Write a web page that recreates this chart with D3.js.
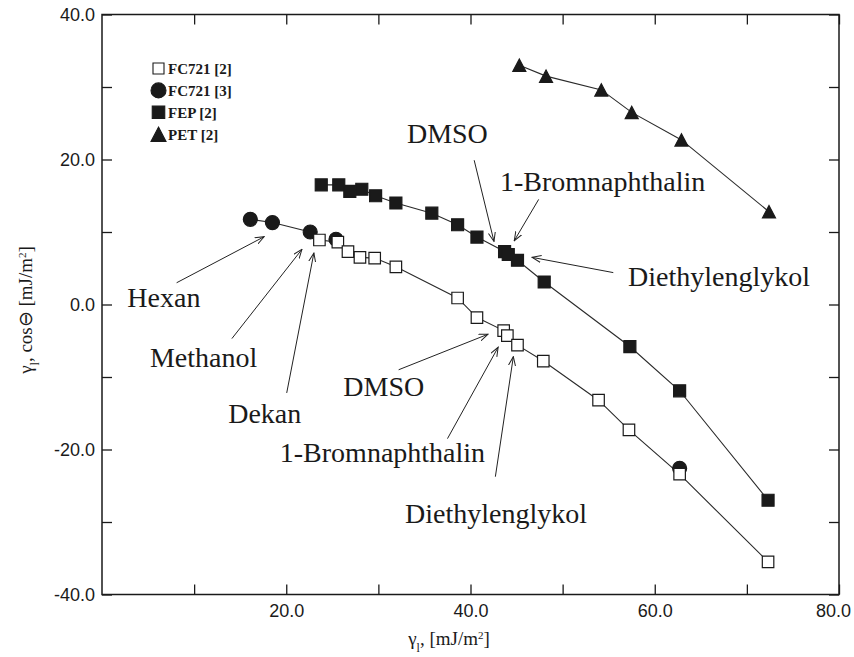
<!DOCTYPE html>
<html>
<head>
<meta charset="utf-8">
<script src="https://cdn.jsdelivr.net/npm/d3@7"></script>
<style>
  html, body { margin: 0; padding: 0; background: #fff; }
  svg { display: block; }
</style>
</head>
<body>
<svg id="chart" width="854" height="657"></svg>
<script>
// ---------------- DATA ----------------
const fc721_2_x = [23.6, 25.6, 26.7, 28.0, 29.6, 31.9, 38.6, 40.7, 43.6, 44.0, 45.1, 47.9, 53.9, 57.2, 62.7, 72.3];
const fc721_2_y = [8.9, 8.6, 7.3, 6.5, 6.4, 5.2, 0.9, -1.8, -3.6, -4.3, -5.6, -7.8, -13.2, -17.3, -23.4, -35.5];

const fc721_3_x = [16.1, 18.5, 22.6, 25.4, 62.7];
const fc721_3_y = [11.75, 11.3, 10.0, 9.0, -22.6];

const fep_x = [23.8, 25.7, 26.9, 28.2, 29.7, 31.9, 35.8, 38.6, 40.7, 43.7, 44.1, 45.1, 48.0, 57.3, 62.7, 72.3];
const fep_y = [16.5, 16.5, 15.6, 15.9, 15.0, 14.0, 12.6, 11.0, 9.3, 7.3, 6.9, 6.1, 3.1, -5.8, -11.9, -27.0];

const pet_x = [45.3, 48.2, 54.2, 57.5, 62.9, 72.4];
const pet_y = [33.0, 31.5, 29.6, 26.5, 22.7, 12.8];

const seriesNames = ["FC721 [2]", "FC721 [3]", "FEP [2]", "PET [2]"];

const xTickValues = [10, 20, 30, 40, 50, 60, 70, 80];
const xTickLabels = [20, 40, 60, 80];
const yTickValues = [-40, -30, -20, -10, 0, 10, 20, 30, 40];
const yTickLabels = [-40, -20, 0, 20, 40];

// annotation labels (text position and arrow in data units)
const annoText = ["DMSO", "1-Bromnaphthalin", "Diethylenglykol", "Hexan", "Methanol", "Dekan", "DMSO", "1-Bromnaphthalin", "Diethylenglykol"];
const annoTextX = [33.1, 43.2, 57.1, 2.75, 5.2, 13.7, 26.2, 19.3, 32.9];
const annoTextY = [22.3, 15.6, 2.6, -0.3, -8.6, -16.3, -12.6, -21.7, -30.2];
const annoFromX = [40.4, 47.4, 55.5, 8.1, 14.1, 20.05, 32.2, 37.5, 42.7];
const annoFromY = [19.9, 14.5, 4.4, 3.0, -4.7, -12.2, -9.0, -18.5, -23.75];
const annoToX = [42.55, 44.75, 46.7, 17.6, 21.7, 23.0, 41.9, 43.0, 44.65];
const annoToY = [8.7, 8.8, 6.5, 9.35, 7.6, 7.1, -4.1, -5.9, -7.2];

// ---------------- CHART ----------------
const svg = d3.select("#chart");
const x = d3.scaleLinear().domain([0, 80]).range([102, 839]);
const y = d3.scaleLinear().domain([-40, 40]).range([594.5, 14.5]);

const ink = "#1a1a1a";

// axes (ticks inward on all four sides)
const fmt = d => d.toFixed(1);
const axB = d3.axisBottom(x).tickValues(xTickValues).tickSizeInner(-10).tickSizeOuter(0).tickPadding(10)
  .tickFormat(d => xTickLabels.includes(d) ? fmt(d) : "");
const axT = d3.axisTop(x).tickValues(xTickValues).tickSizeInner(-10).tickSizeOuter(0).tickFormat("");
const axL = d3.axisLeft(y).tickValues(yTickValues).tickSizeInner(-10).tickSizeOuter(0).tickPadding(7)
  .tickFormat(d => yTickLabels.includes(d) ? fmt(d) : "");
const axR = d3.axisRight(y).tickValues(yTickValues).tickSizeInner(-10).tickSizeOuter(0).tickFormat("");

function styleAxis(g) {
  g.select(".domain").remove();
  g.selectAll(".tick line").attr("stroke", ink).attr("stroke-width", 1.3);
  g.selectAll(".tick text").attr("fill", ink)
    .style("font-family", "'Liberation Sans', Arial, sans-serif").style("font-size", "18px");
}
const gB = svg.append("g").attr("transform", `translate(0,${y(-40)})`).call(axB).call(styleAxis);
// keep the last label ("80.0") inside the picture
gB.selectAll(".tick text").filter(d => d === 80).attr("dx", -6);
svg.append("g").attr("transform", `translate(0,${y(40)})`).call(axT).call(styleAxis);
svg.append("g").attr("transform", `translate(${x(0)},0)`).call(axL).call(styleAxis);
svg.append("g").attr("transform", `translate(${x(80)},0)`).call(axR).call(styleAxis);

svg.append("rect")
  .attr("x", x(0)).attr("y", y(40))
  .attr("width", x(80) - x(0)).attr("height", y(-40) - y(40))
  .attr("fill", "none").attr("stroke", ink).attr("stroke-width", 1.5);

// axis titles
const xt = svg.append("text").attr("x", 449).attr("y", 645).attr("text-anchor", "middle")
  .style("font-family", "'Liberation Serif', 'Times New Roman', serif").style("font-size", "19px").attr("fill", ink);
xt.append("tspan").text("γ");
xt.append("tspan").attr("baseline-shift", "sub").style("font-size", "12px").text("l");
xt.append("tspan").text(", [mJ/m");
xt.append("tspan").attr("baseline-shift", "super").style("font-size", "11px").text("2");
xt.append("tspan").text("]");

const yt = svg.append("text").attr("transform", "translate(32,310) rotate(-90)").attr("text-anchor", "middle")
  .style("font-family", "'Liberation Serif', 'Times New Roman', serif").style("font-size", "19px").attr("fill", ink);
yt.append("tspan").text("γ");
yt.append("tspan").attr("baseline-shift", "sub").style("font-size", "12px").text("l");
yt.append("tspan").text(", cos⊖  [mJ/m");
yt.append("tspan").attr("baseline-shift", "super").style("font-size", "11px").text("2");
yt.append("tspan").text("]");

// data tables
const zip = (xs, ys) => xs.map((v, i) => ({ x: v, y: ys[i] }));
const fc2 = zip(fc721_2_x, fc721_2_y);
const fc3 = zip(fc721_3_x, fc721_3_y);
const fep = zip(fep_x, fep_y);
const pet = zip(pet_x, pet_y);

// FC721 combined curve: [3] points left of the first [2] point, then [2]
const fcLine = fc3.filter(d => d.x < fc721_2_x[0]).concat(fc2);

const line = d3.line().x(d => x(d.x)).y(d => y(d.y));
[fcLine, fep, pet].forEach(s => {
  svg.append("path").attr("d", line(s)).attr("fill", "none")
    .attr("stroke", "#2a2a2a").attr("stroke-width", 1.1);
});

// symbols
const triType = {
  draw(ctx, size) {
    const w = Math.sqrt(size) , h = w * 0.95;
    ctx.moveTo(0, -h / 2);
    ctx.lineTo(w / 2, h / 2);
    ctx.lineTo(-w / 2, h / 2);
    ctx.closePath();
  }
};
const symSq = (s) => d3.symbol().type(d3.symbolSquare).size(s * s);
const symCi = (dia) => d3.symbol().type(d3.symbolCircle).size(Math.PI * dia * dia / 4);
const symTr = (w) => d3.symbol().type(triType).size(w * w);

function drawPoints(data, sym, fill, stroke) {
  svg.append("g").selectAll("path").data(data).join("path")
    .attr("transform", d => `translate(${x(d.x)},${y(d.y)})`)
    .attr("d", sym())
    .attr("fill", fill).attr("stroke", stroke).attr("stroke-width", 1.2);
}
drawPoints(fc3, () => symCi(14)(), ink, ink);
drawPoints(fc2, () => symSq(11.5)(), "#fff", ink);
drawPoints(fep, () => symSq(12)(), ink, ink);
drawPoints(pet, () => symTr(13)(), ink, ink);

// annotations
svg.append("defs").append("marker")
  .attr("id", "arr").attr("viewBox", "0 0 10 8").attr("refX", 9).attr("refY", 4)
  .attr("markerWidth", 10).attr("markerHeight", 8).attr("markerUnits", "userSpaceOnUse")
  .attr("orient", "auto")
  .append("path").attr("d", "M0,0.5 L9,4 L0,7.5").attr("fill", "none").attr("stroke", "#222").attr("stroke-width", 1);

const annos = annoText.map((t, i) => ({ t, tx: annoTextX[i], ty: annoTextY[i], fx: annoFromX[i], fy: annoFromY[i], ex: annoToX[i], ey: annoToY[i] }));
svg.append("g").selectAll("line").data(annos).join("line")
  .attr("x1", d => x(d.fx)).attr("y1", d => y(d.fy))
  .attr("x2", d => x(d.ex)).attr("y2", d => y(d.ey))
  .attr("stroke", "#222").attr("stroke-width", 1).attr("marker-end", "url(#arr)");
svg.append("g").selectAll("text").data(annos).join("text")
  .attr("x", d => x(d.tx)).attr("y", d => y(d.ty))
  .style("font-family", "'Liberation Serif', 'Times New Roman', serif").style("font-size", "28px")
  .attr("fill", ink).text(d => d.t);

// legend
const legSyms = [
  { sym: symSq(11)(), fill: "#fff" },
  { sym: symCi(15)(), fill: ink },
  { sym: symSq(12.5)(), fill: ink },
  { sym: symTr(15)(), fill: ink }
];
const leg = svg.append("g").attr("transform", "translate(158.5,68.5)");
const rows = leg.selectAll("g").data(seriesNames).join("g")
  .attr("transform", (d, i) => `translate(0,${i * 21.9})`);
rows.append("path").attr("d", (d, i) => legSyms[i].sym)
  .attr("fill", (d, i) => legSyms[i].fill).attr("stroke", ink).attr("stroke-width", 1.1);
rows.append("text").attr("x", 9.5).attr("y", 5.8).text(d => d)
  .style("font-family", "'Liberation Serif', 'Times New Roman', serif").style("font-size", "15px")
  .style("font-weight", "bold").attr("fill", ink);
</script>
</body>
</html>
